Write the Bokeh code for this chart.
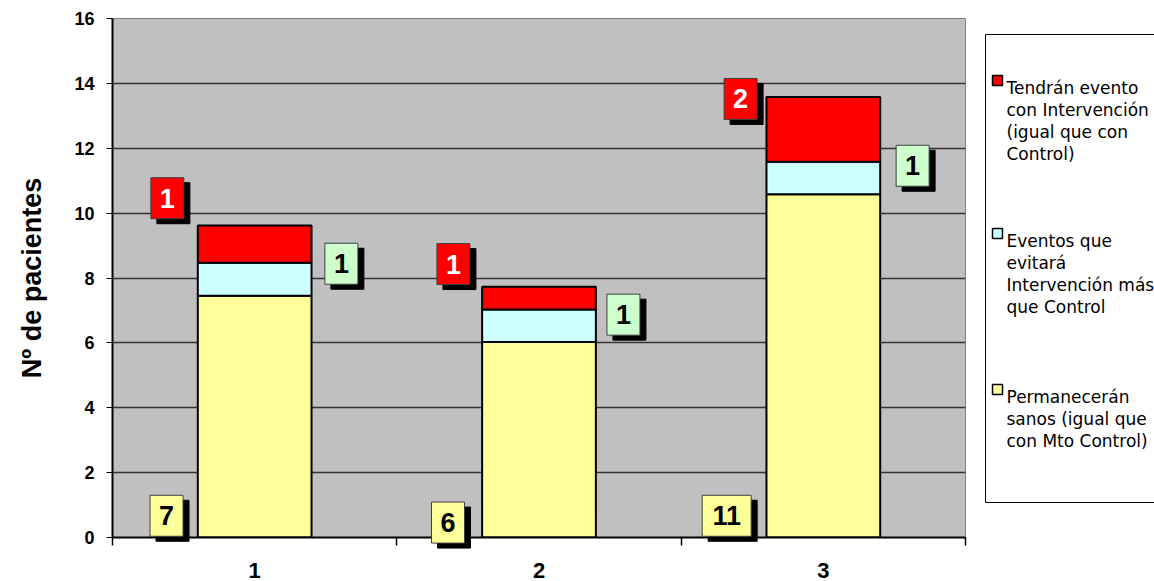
from bokeh.plotting import figure
from bokeh.layouts import row
from bokeh.models import ColumnDataSource, FixedTicker, Range1d
from bokeh.core.properties import value
from bokeh.embed import file_html
from bokeh.resources import INLINE

# --- data -----------------------------------------------------------------
categories = ["1", "2", "3"]
sanos = [7.45, 6.03, 10.58]       # Permanecerán sanos
evitados = [1.02, 1.00, 1.00]     # Eventos que evitará la intervención
eventos = [1.15, 0.70, 2.00]      # Tendrán evento igualmente
y_ticks = [0, 2, 4, 6, 8, 10, 12, 14, 16]

legend_items = [
    ["Tendrán evento", "con Intervención", "(igual que con", "Control)"],
    ["Eventos que", "evitará", "Intervención más", "que Control"],
    ["Permanecerán", "sanos (igual que", "con Mto Control)"],
]

# --- styling --------------------------------------------------------------
C_SANOS = "#FFFF99"
C_EVIT = "#CCFFFF"
C_EVENT = "#FF0000"
C_TAG_EVIT = "#CCFFCC"
NUM_FONT = value("Liberation Sans")

W_MAIN, H = 975, 581
B_LEFT, B_RIGHT, B_TOP, B_BOTTOM = 112, 10, 18, 44
X0, X1, Y0, Y1 = 0.5, 3.5, 0, 16
px_x = (W_MAIN - B_LEFT - B_RIGHT) / (X1 - X0)
px_y = (H - B_TOP - B_BOTTOM) / (Y1 - Y0)
shadow_dx, shadow_dy = 6 / px_x, 5 / px_y

xs = [i + 1 for i in range(len(categories))]

p = figure(width=W_MAIN, height=H, x_range=Range1d(X0, X1), y_range=Range1d(Y0, Y1),
           output_backend="svg", toolbar_location=None,
           min_border_left=B_LEFT, min_border_right=B_RIGHT,
           min_border_top=B_TOP, min_border_bottom=B_BOTTOM)
p.background_fill_color = "#C0C0C0"
p.border_fill_color = "white"
p.outline_line_color = "#808080"
p.outline_line_width = 1

# horizontal grid
p.xgrid.visible = False
p.ygrid.ticker = FixedTicker(ticks=y_ticks)
p.ygrid.grid_line_color = "#333333"
p.ygrid.grid_line_width = 1.3

# y axis
p.yaxis.ticker = FixedTicker(ticks=y_ticks)
p.yaxis.axis_label = "Nº de pacientes"
p.yaxis.axis_label_text_font = "Liberation Sans"
p.yaxis.axis_label_text_font_style = "bold"
p.yaxis.axis_label_text_font_size = "27px"
p.yaxis.axis_label_text_color = "black"
p.yaxis.axis_label_standoff = 24
p.yaxis.major_label_text_font = "Liberation Sans"
p.yaxis.major_label_text_font_style = "bold"
p.yaxis.major_label_text_font_size = "18px"
p.yaxis.major_label_text_color = "black"
p.yaxis.major_label_standoff = 12
p.yaxis.major_tick_out = 6
p.yaxis.major_tick_in = 0
p.yaxis.minor_tick_line_color = None
p.yaxis.axis_line_width = 2
p.yaxis.axis_line_color = "black"
p.yaxis.major_tick_line_color = "black"

# x axis: labels at category centres, ticks at category boundaries
p.xaxis.ticker = FixedTicker(ticks=xs, minor_ticks=[x - 0.5 for x in xs] + [xs[-1] + 0.5])
p.xaxis.major_label_overrides = {x: c for x, c in zip(xs, categories)}
p.xaxis.major_tick_out = 0
p.xaxis.major_tick_in = 0
p.xaxis.minor_tick_out = 8
p.xaxis.minor_tick_in = 0
p.xaxis.minor_tick_line_color = "black"
p.xaxis.minor_tick_line_width = 1.5
p.xaxis.axis_line_width = 2
p.xaxis.axis_line_color = "black"
p.xaxis.major_label_text_font = "Liberation Sans"
p.xaxis.major_label_text_font_style = "bold"
p.xaxis.major_label_text_font_size = "22px"
p.xaxis.major_label_text_color = "black"
p.xaxis.major_label_standoff = 17

# stacked bars
src = ColumnDataSource(dict(x=xs, sanos=sanos, evitados=evitados, eventos=eventos))
p.vbar_stack(["sanos", "evitados", "eventos"], x="x", width=0.4, source=src,
             fill_color=[C_SANOS, C_EVIT, C_EVENT], line_color="black", line_width=2)


def tag_layer(vals, x_off, y_pos, fill, text_color):
    """Boxed value tags with a drop shadow."""
    texts = [str(int(v + 0.5)) for v in vals]
    tx = [x + o for x, o in zip(xs, x_off)]
    d = dict(x=tx, y=y_pos, sx=[x + shadow_dx for x in tx], sy=[y - shadow_dy for y in y_pos],
             w=[17 + 16 * len(t) for t in texts], text=texts)
    s = ColumnDataSource(d)
    p.rect(x="sx", y="sy", width="w", height=41, width_units="screen", height_units="screen",
           source=s, fill_color="black", line_color="black", level="overlay")
    p.rect(x="x", y="y", width="w", height=41, width_units="screen", height_units="screen",
           source=s, fill_color=fill, line_color="#404040", line_width=1, level="overlay")
    p.text(x="x", y="y", text="text", source=s, text_align="center", text_baseline="middle",
           text_font=NUM_FONT, text_font_style="bold", text_font_size="27px",
           text_color=text_color, level="overlay")


tag_layer(eventos, [-0.307, -0.301, -0.291], [10.46, 8.43, 13.52], C_EVENT, "white")
tag_layer(evitados, [0.305, 0.297, 0.314], [8.44, 6.87, 11.46], C_TAG_EVIT, "black")
tag_layer(sanos, [-0.31, -0.32, -0.34], [0.67, 0.46, 0.67], C_SANOS, "black")

# --- key panel (coordinates in page pixels) -------------------------------
W_KEY = 1154 - W_MAIN
k = figure(width=W_KEY, height=H, x_range=Range1d(0, W_KEY),
           y_range=Range1d(H - B_BOTTOM, B_TOP),
           output_backend="svg", toolbar_location=None,
           min_border_left=0, min_border_right=0,
           min_border_top=B_TOP, min_border_bottom=B_BOTTOM,
           x_axis_location=None, y_axis_location=None)
k.outline_line_color = None
k.grid.visible = False
k.background_fill_color = "white"
k.border_fill_color = "white"

k.quad(left=[10], right=[W_KEY + 20], top=[34], bottom=[502],
       fill_color="white", line_color="black", line_width=1)

key_colors = [C_EVENT, C_EVIT, C_SANOS]
first_baseline = [87, 240, 396]
line_step = 22.3
k.rect(x=[22] * 3, y=[b - 7 for b in first_baseline], width=10, height=10,
       fill_color=key_colors, line_color="black", line_width=1.5)
for lines, b in zip(legend_items, first_baseline):
    k.text(x=[31] * len(lines), y=[b + i * line_step for i in range(len(lines))], text=lines,
           text_align="left", text_baseline="alphabetic", text_font=value("DejaVu Sans"),
           text_font_size="17px", text_color="black")

layout = row(p, k)
open("out.html", "w").write(file_html(layout, INLINE))
